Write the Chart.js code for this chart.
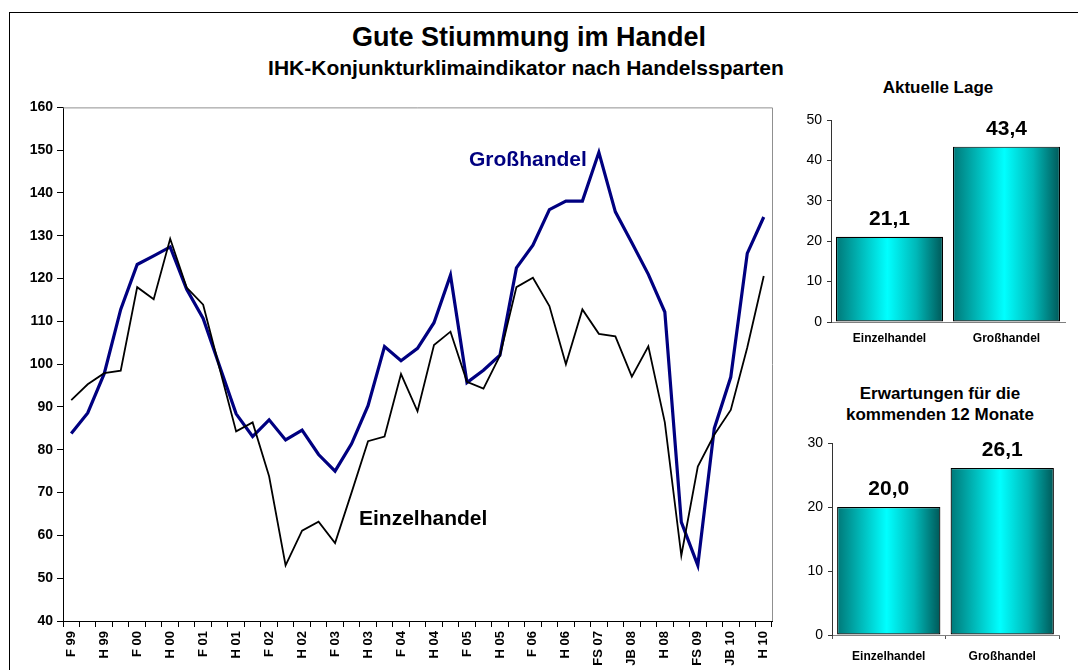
<!DOCTYPE html>
<html lang="de">
<head>
<meta charset="utf-8">
<title>Gute Stiummung im Handel</title>
<script src="https://cdn.jsdelivr.net/npm/chart.js@4"></script>
<style>
  html, body { margin: 0; padding: 0; background: #fff; }
  body { width: 1078px; height: 670px; position: relative; overflow: hidden;
         font-family: "Liberation Sans", Arial, sans-serif; }
  .frame { position: absolute; left: 9px; top: 12px; width: 1100px; height: 700px;
           border: 1.5px solid #000; box-sizing: border-box; }
  .txt { position: absolute; font-weight: bold; white-space: nowrap; }
  .box { position: absolute; }
</style>
</head>
<body>
<div class="frame"></div>

<div class="txt" style="left:0;width:1058px;top:22px;text-align:center;font-size:27px;">Gute Stiummung im Handel</div>
<div class="txt" style="left:0;width:1052px;top:56px;text-align:center;font-size:21px;">IHK-Konjunkturklimaindikator nach Handelssparten</div>

<div class="box" style="left:15px;top:95px;width:770px;height:575px;"><canvas id="lineChart"></canvas></div>
<div class="txt" style="left:469px;top:147px;font-size:21px;color:#000080;">Großhandel</div>
<div class="txt" style="left:359px;top:506px;font-size:21px;color:#000;">Einzelhandel</div>

<div class="txt" style="left:840px;width:196px;top:78px;text-align:center;font-size:17px;">Aktuelle Lage</div>
<div class="box" style="left:790px;top:100px;width:288px;height:250px;"><canvas id="lageChart"></canvas></div>

<div class="txt" style="left:840px;width:200px;top:383px;text-align:center;font-size:17px;line-height:21px;">Erwartungen für die<br>kommenden 12 Monate</div>
<div class="box" style="left:790px;top:425px;width:288px;height:245px;"><canvas id="erwartungChart"></canvas></div>

<script>
// tick labels shown on every second period
const tickLabels = ['F 99', 'H 99', 'F 00', 'H 00', 'F 01', 'H 01', 'F 02', 'H 02', 'F 03', 'H 03',
    'F 04', 'H 04', 'F 05', 'H 05', 'F 06', 'H 06', 'FS 07', 'JB 08', 'H 08', 'FS 09', 'JB 10', 'H 10'];

const einzelhandel = [91.6, 95.3, 97.9, 98.5, 118.0, 115.2, 129.3, 117.9, 113.9, 99.0,
    84.3, 86.4, 73.8, 53.0, 61.1, 63.2, 58.2, 70.0, 82.0, 83.1,
    97.7, 89.0, 104.5, 107.6, 95.9, 94.3, 102.0, 118.0, 120.2, 113.6,
    100.0, 112.8, 107.1, 106.5, 97.1, 104.2, 86.4, 55.3, 76.1, 83.5,
    89.3, 103.9, 120.6];

const grosshandel = [83.8, 88.6, 97.8, 112.8, 123.3, 125.3, 127.4, 117.5, 110.7, 99.5,
    88.4, 83.1, 87.0, 82.3, 84.6, 78.9, 75.0, 81.4, 90.3, 104.1,
    100.8, 103.7, 109.7, 120.8, 95.7, 98.6, 102.1, 122.5, 127.8, 136.1,
    138.1, 138.1, 149.5, 135.6, 128.4, 121.0, 112.2, 63.1, 53.0, 85.0,
    97.0, 125.9, 134.4];

const barCategories = ['Einzelhandel', 'Großhandel'];
const lageValues = [21.1, 43.4];
const erwartungValues = [20.0, 26.1];

const FONT = '"Liberation Sans", Arial, sans-serif';

// every period gets a slot, only every second one carries a label
const periods = einzelhandel.map((v, i) => (i % 2 === 0 ? tickLabels[i / 2] : ''));

// gray border on top and right of the plot area, like the Excel frame
const plotFrame = {
    id: 'plotFrame',
    beforeDatasetsDraw(chart) {
        const { ctx, chartArea: a } = chart;
        ctx.save();
        ctx.strokeStyle = '#909090';
        ctx.lineWidth = 1;
        ctx.beginPath();
        ctx.moveTo(a.left, a.top + 0.5);
        ctx.lineTo(a.right + 0.5, a.top + 0.5);
        ctx.lineTo(a.right + 0.5, a.bottom);
        ctx.stroke();
        ctx.restore();
    }
};

new Chart(document.getElementById('lineChart'), {
    type: 'line',
    data: {
        labels: periods,
        datasets: [{
            label: 'Einzelhandel',
            data: einzelhandel,
            borderColor: '#000000',
            borderWidth: 1.8,
            pointRadius: 0,
            tension: 0
        }, {
            label: 'Großhandel',
            data: grosshandel,
            borderColor: '#000080',
            borderWidth: 3.2,
            pointRadius: 0,
            tension: 0
        }]
    },
    options: {
        responsive: true,
        maintainAspectRatio: false,
        animation: false,
        layout: { padding: { top: 11, right: 13, left: 0, bottom: 0 } },
        plugins: { legend: { display: false }, tooltip: { enabled: false } },
        scales: {
            x: {
                offset: true,
                afterFit: (scale) => { scale.height = 49; },
                grid: { offset: true, drawOnChartArea: false, color: '#000', tickLength: 6, tickWidth: 1 },
                border: { color: '#000', width: 1 },
                ticks: {
                    autoSkip: false, minRotation: 90, maxRotation: 90, padding: 4,
                    color: '#000', font: { family: FONT, size: 13, weight: 'bold' }
                }
            },
            y: {
                min: 40, max: 160,
                afterFit: (scale) => { scale.width = 48; },
                grid: { drawOnChartArea: false, color: '#000', tickLength: 6 },
                border: { color: '#000', width: 1 },
                ticks: {
                    stepSize: 10, padding: 4,
                    color: '#000', font: { family: FONT, size: 14, weight: 'bold' }
                }
            }
        }
    },
    plugins: [plotFrame]
});

// cylinder-like horizontal gradient for the bars
function barGradient(context, barPct) {
    const chart = context.chart;
    if (!chart.chartArea) return '#00c0c0';
    const xs = chart.scales.x;
    const cx = xs.getPixelForValue(context.dataIndex);
    const half = xs.width / chart.data.labels.length * barPct / 2;
    const g = chart.ctx.createLinearGradient(cx - half, 0, cx + half, 0);
    g.addColorStop(0, '#007878');
    g.addColorStop(0.2, '#00b0b0');
    g.addColorStop(0.48, '#00ffff');
    g.addColorStop(0.75, '#00b8b8');
    g.addColorStop(1, '#005858');
    return g;
}

// value labels above bars, German decimal comma
const valueLabels = {
    id: 'valueLabels',
    afterDatasetsDraw(chart) {
        const { ctx } = chart;
        const meta = chart.getDatasetMeta(0);
        ctx.save();
        ctx.font = 'bold 21px ' + FONT;
        ctx.fillStyle = '#000';
        ctx.textAlign = 'center';
        ctx.textBaseline = 'alphabetic';
        meta.data.forEach((bar, i) => {
            const v = chart.data.datasets[0].data[i];
            ctx.fillText(v.toFixed(1).replace('.', ','), bar.x, bar.y - 12);
        });
        ctx.restore();
    }
};

function makeBarChart(id, values, max, opt) {
    const barPct = opt.barPct;
    return new Chart(document.getElementById(id), {
        type: 'bar',
        data: {
            labels: barCategories,
            datasets: [{
                data: values,
                backgroundColor: (c) => barGradient(c, barPct),
                borderColor: '#000',
                borderWidth: 1.2,
                borderSkipped: false,
                barPercentage: barPct,
                categoryPercentage: 1
            }]
        },
        options: {
            responsive: true,
            maintainAspectRatio: false,
            animation: false,
            layout: { padding: { top: opt.top, right: opt.right, left: 0, bottom: 0 } },
            plugins: { legend: { display: false }, tooltip: { enabled: false } },
            scales: {
                x: {
                    afterFit: (scale) => { scale.height = opt.xHeight; },
                    grid: { offset: true, drawOnChartArea: false, drawTicks: opt.xTicks, color: '#555', tickLength: 4 },
                    border: { color: '#808080', width: 1 },
                    ticks: {
                        padding: opt.xPad, maxRotation: 0,
                        color: '#000', font: { family: FONT, size: 12, weight: 'bold' }
                    }
                },
                y: {
                    min: 0, max: max,
                    afterFit: (scale) => { scale.width = opt.yWidth; },
                    grid: { drawOnChartArea: false, color: '#333', tickLength: 4 },
                    border: { color: '#333', width: 1 },
                    ticks: {
                        stepSize: 10, padding: 5,
                        color: '#000', font: { family: FONT, size: 14 }
                    }
                }
            }
        },
        plugins: [valueLabels]
    });
}

makeBarChart('lageChart', lageValues, 50,
    { barPct: 0.915, top: 20, right: 13, xHeight: 28, yWidth: 41, xTicks: false, xPad: 9 });
makeBarChart('erwartungChart', erwartungValues, 30,
    { barPct: 0.91, top: 18, right: 19, xHeight: 35, yWidth: 42, xTicks: true, xPad: 10 });
</script>
</body>
</html>
